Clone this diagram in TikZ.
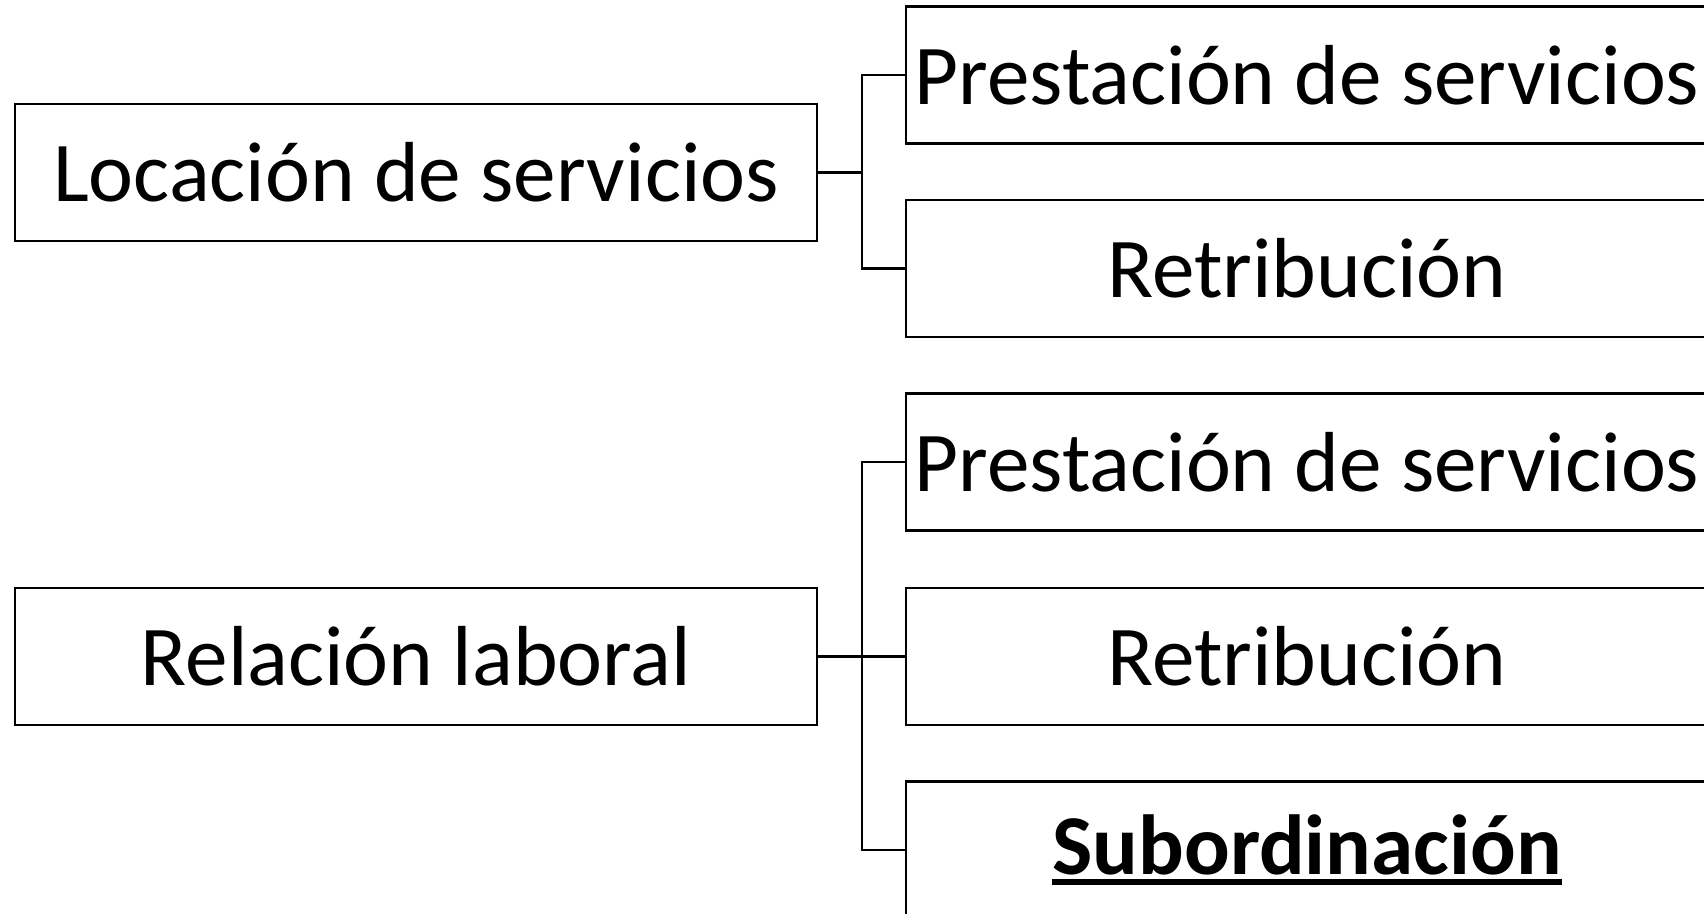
\documentclass[tikz,border=0pt]{standalone}
\usepackage{fontspec}
\setmainfont{Carlito}
\newcommand{\thickul}[1]{\sbox0{#1}\rlap{\rule[-0.13em]{\wd0}{0.07em}}\usebox0}
\begin{document}
\begin{tikzpicture}[x=0.5pt, y=-0.5pt]
\tikzstyle{box}  = [rectangle, draw=black, line width=1.1pt, text centered, inner sep=0pt, minimum width=401pt, minimum height=68.5pt, font=\fontsize{42.6}{50}\selectfont]
\tikzstyle{link} = [line width=1.1pt, black]
\useasboundingbox (0,0) rectangle (1704,914);
\clip (0,0) rectangle (1704,914);
% left column
\node[box] at (416, 172.5) (loc) {Locación de servicios};
\node[box] at (416, 656.5) (rel) {Relación laboral};
% right column
\node[box] at (1307, 75.0) (pre_1) {Prestación de servicios};
\node[box] at (1307, 268.5) (ret_1) {Retribución};
\node[box] at (1307, 462.0) (pre_2) {Prestación de servicios};
\node[box] at (1307, 656.5) (ret_2) {Retribución};
\node[box] at (1307, 850.0) (sub) {\textbf{\thickul{Subordinación}}};
% junctions
\coordinate (bus_1) at (862, 172.5);
\coordinate (bus_2) at (862, 656.5);
\draw[link] (loc.east) -- (bus_1) |- (pre_1.west);
\draw[link] (bus_1) |- (ret_1.west);
\draw[link] (rel.east) -- (ret_2.west);
\draw[link] (bus_2) |- (pre_2.west);
\draw[link] (bus_2) |- (sub.west);
\end{tikzpicture}
\end{document}
